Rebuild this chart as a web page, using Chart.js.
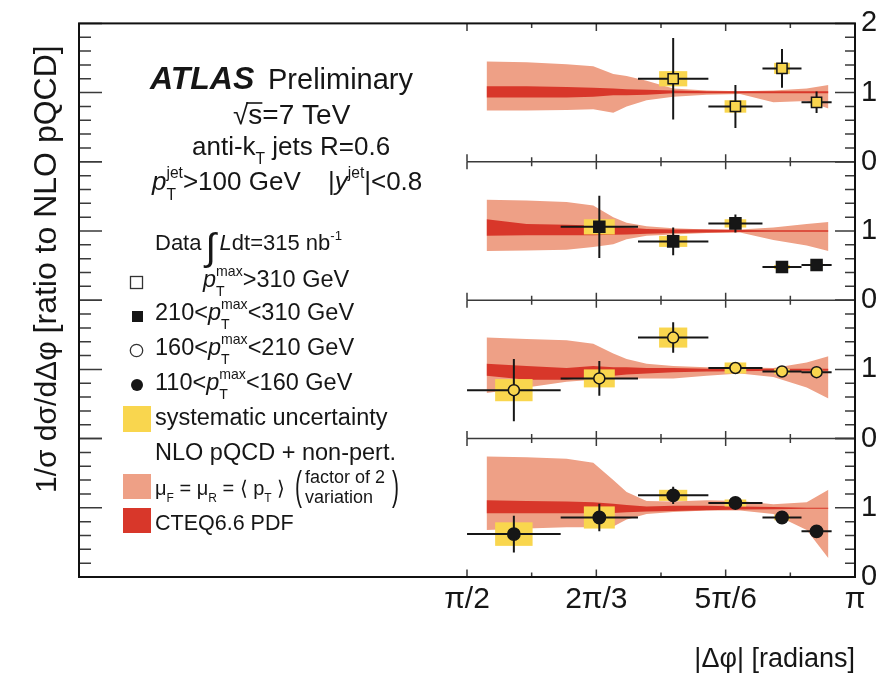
<!DOCTYPE html>
<html>
<head>
<meta charset="utf-8">
<script src="https://cdn.jsdelivr.net/npm/chart.js@4.4.0/dist/chart.umd.min.js"></script>
<style>
  html, body { margin: 0; padding: 0; background: #fff; }
  canvas { display: block; }
</style>
</head>
<body>
<canvas id="dphiChart" width="887" height="675"></canvas>
<script>
// |dphi| bins (radians), same for every panel
const binLo = [1.571, 1.950, 2.263, 2.548, 2.767, 2.925];
const binHi = [1.950, 2.263, 2.548, 2.767, 2.925, 3.047];

const xTickVals = [Math.PI / 2, 2 * Math.PI / 3, 5 * Math.PI / 6, Math.PI];
const xTickLabels = ['π/2', '2π/3', '5π/6', 'π'];
const xMinorVals = [7 * Math.PI / 12, 3 * Math.PI / 4, 11 * Math.PI / 12];

// data / NLO, one set per pT max slice (top panel first)
const ratio310 = [null, null, 1.20, 0.80, 1.35, 0.86];
const stat310  = [null, null, 0.59, 0.31, 0.28, 0.155];
const syst310  = [null, null, 0.11, 0.09, 0.08, 0.06];

const ratio210 = [null, 1.06, 0.85, 1.11, 0.48, 0.51];
const stat210  = [null, 0.45, 0.20, 0.13, 0.03, 0.03];
const syst210  = [null, 0.11, 0.08, 0.06, 0.03, 0.03];

const ratio160 = [0.70, 0.87, 1.46, 1.02, 0.97, 0.96];
const stat160  = [0.45, 0.25, 0.22, 0.04, 0.03, 0.03];
const syst160  = [0.16, 0.13, 0.145, 0.08, 0.04, 0.04];

const ratio110 = [0.62, 0.86, 1.18, 1.07, 0.86, 0.66];
const stat110  = [0.265, 0.20, 0.125, 0.04, 0.03, 0.03];
const syst110  = [0.17, 0.16, 0.08, 0.05, 0.04, 0.03];

// theory bands (scale variation and PDF), nodes along |dphi|
const bandX = [1.650, 1.812, 1.974, 2.082, 2.163, 2.217, 2.298, 2.406, 2.541, 2.676, 2.811, 2.946, 3.034];

const scaleUp310 = [1.45, 1.44, 1.41, 1.38, 1.27, 1.24, 1.17, 1.06, 1.03, 1.02, 1.03, 1.06, 1.11];
const scaleDn310 = [0.74, 0.74, 0.75, 0.76, 0.71, 0.80, 0.89, 0.94, 0.97, 0.98, 0.86, 0.88, 0.77];
const pdfUp310   = [1.09, 1.09, 1.08, 1.07, 1.06, 1.05, 1.04, 1.03, 1.02, 1.02, 1.02, 1.02, 1.02];
const pdfDn310   = [0.93, 0.93, 0.93, 0.94, 0.96, 0.96, 0.97, 0.99, 0.99, 0.99, 0.99, 0.99, 0.99];

const scaleUp210 = [1.45, 1.44, 1.42, 1.37, 1.20, 1.12, 1.07, 1.04, 1.02, 1.02, 1.05, 1.10, 1.13];
const scaleDn210 = [0.71, 0.72, 0.73, 0.77, 0.81, 0.88, 0.93, 0.95, 0.97, 0.98, 0.87, 0.79, 0.71];
const pdfUp210   = [1.17, 1.10, 1.09, 1.08, 1.06, 1.05, 1.03, 1.02, 1.02, 1.015, 1.01, 1.01, 1.01];
const pdfDn210   = [0.93, 0.94, 0.94, 0.94, 0.945, 0.95, 0.96, 0.97, 0.98, 0.985, 0.99, 0.99, 0.99];

const scaleUp160 = [1.46, 1.44, 1.42, 1.37, 1.23, 1.15, 1.08, 1.05, 1.03, 1.03, 1.02, 1.10, 1.19];
const scaleDn160 = [0.66, 0.74, 0.82, 0.85, 0.86, 0.87, 0.87, 0.87, 0.91, 0.94, 0.89, 0.74, 0.58];
const pdfUp160   = [1.08, 1.05, 1.02, 1.05, 1.03, 1.03, 1.02, 1.02, 1.01, 1.01, 1.01, 1.01, 1.01];
const pdfDn160   = [0.91, 0.85, 0.85, 0.89, 0.91, 0.925, 0.94, 0.96, 0.97, 0.975, 0.98, 0.98, 0.98];

const scaleUp110 = [1.74, 1.73, 1.71, 1.65, 1.40, 1.23, 1.10, 1.09, 1.11, 1.10, 1.05, 1.08, 1.26];
const scaleDn110 = [0.68, 0.70, 0.72, 0.72, 0.73, 0.83, 0.91, 0.94, 0.96, 0.96, 0.91, 0.68, 0.27];
const pdfUp110   = [1.11, 1.10, 1.09, 1.08, 1.06, 1.04, 1.02, 1.03, 1.03, 1.02, 1.01, 1.00, 1.00];
const pdfDn110   = [0.92, 0.92, 0.92, 0.92, 0.925, 0.935, 0.945, 0.955, 0.965, 0.975, 0.98, 0.985, 0.985];

const SALMON = '#eea086';
const RED = '#d8372a';
const YELLOW = '#f9d64e';
const INK = '#161616';
const FONT = "'Liberation Sans', Arial, Helvetica, sans-serif";

const panels = [
  { ratio: ratio310, stat: stat310, syst: syst310, up: scaleUp310, dn: scaleDn310, pup: pdfUp310, pdn: pdfDn310,
    style: 'rect', radius: 7.2, fill: YELLOW },
  { ratio: ratio210, stat: stat210, syst: syst210, up: scaleUp210, dn: scaleDn210, pup: pdfUp210, pdn: pdfDn210,
    style: 'rect', radius: 7.8, fill: INK },
  { ratio: ratio160, stat: stat160, syst: syst160, up: scaleUp160, dn: scaleDn160, pup: pdfUp160, pdn: pdfDn160,
    style: 'circle', radius: 5.5, fill: YELLOW },
  { ratio: ratio110, stat: stat110, syst: syst110, up: scaleUp110, dn: scaleDn110, pup: pdfUp110, pdn: pdfDn110,
    style: 'circle', radius: 6.2, fill: INK }
];

const datasets = [];
const scales = {
  x: {
    type: 'linear', min: 0, max: Math.PI, position: 'bottom',
    grid: { display: false, drawTicks: false },
    border: { display: false },
    afterBuildTicks: s => { s.ticks = xTickVals.map(v => ({ value: v })); },
    ticks: {
      autoSkip: false, maxRotation: 0, padding: 5, color: INK,
      font: { family: FONT, size: 30 },
      callback: (v, i) => xTickLabels[i]
    },
    afterFit: s => { s.height = 98; }
  }
};

panels.forEach((p, i) => {
  const yId = 'y' + i;
  scales[yId] = {
    type: 'linear', min: 0, max: 2, position: 'right', stack: 'panels', stackWeight: 1,
    grid: { display: false, drawTicks: false },
    border: { display: false },
    ticks: {
      stepSize: 1, padding: 6, color: INK,
      font: { family: FONT, size: 29 },
      callback: v => (i > 0 && v === 2) ? '' : String(v)
    },
    afterFit: s => { s.width = 32; }
  };

  const band = (vals, fill, color, order) => ({
    type: 'line', yAxisID: yId, xAxisID: 'x', order: order,
    data: bandX.map((x, k) => ({ x: x, y: vals[k] })),
    borderWidth: 0, borderColor: 'rgba(0,0,0,0)', pointRadius: 0, tension: 0,
    fill: fill, backgroundColor: color
  });
  datasets.push(band(p.up, '+1', SALMON, 4));
  datasets.push(band(p.dn, false, SALMON, 4));
  datasets.push(band(p.pup, '+1', RED, 3));
  datasets.push(band(p.pdn, false, RED, 3));

  // error bars: horizontal bin width + vertical stat error, broken by gaps
  const bars = [];
  p.ratio.forEach((v, k) => {
    if (v === null) return;
    const c = (binLo[k] + binHi[k]) / 2;
    bars.push({ x: binLo[k], y: v }, { x: binHi[k], y: v }, { x: c, y: null });
    bars.push({ x: c, y: v - p.stat[k] }, { x: c, y: v + p.stat[k] }, { x: c, y: null });
  });
  datasets.push({
    type: 'line', yAxisID: yId, xAxisID: 'x', order: 1, panel: i, errBars: true,
    data: bars, spanGaps: false, borderColor: INK, borderWidth: 2, pointRadius: 0, fill: false
  });

  const pts = [];
  p.ratio.forEach((v, k) => { if (v !== null) pts.push({ x: (binLo[k] + binHi[k]) / 2, y: v }); });
  datasets.push({
    type: 'line', yAxisID: yId, xAxisID: 'x', order: 0, showLine: false, data: pts,
    pointStyle: p.style, pointRadius: p.radius, pointBackgroundColor: p.fill,
    pointBorderColor: INK, pointBorderWidth: 1.5
  });
});

function fnt(size, style) {
  let pre = '';
  if (style && style.includes('i')) pre += 'italic ';
  if (style && style.includes('b')) pre += 'bold ';
  return pre + size + 'px ' + FONT;
}

// text with ROOT-like sub/superscripts
function rich(ctx, x, y, size, parts) {
  let cx = x;
  const sm = size * 0.6;
  parts.forEach(([t, s]) => {
    if (s === 'ss') {
      ctx.font = fnt(sm);
      ctx.fillText(t[0], cx, y - size * 0.45);
      ctx.fillText(t[1], cx, y + size * 0.4);
      cx += Math.max(ctx.measureText(t[0]).width, ctx.measureText(t[1]).width);
    } else if (s === 'sup') {
      ctx.font = fnt(sm);
      ctx.fillText(t, cx, y - size * 0.45);
      cx += ctx.measureText(t).width;
    } else if (s === 'sub') {
      ctx.font = fnt(sm);
      ctx.fillText(t, cx, y + size * 0.35);
      cx += ctx.measureText(t).width;
    } else {
      ctx.font = fnt(size, s);
      ctx.fillText(t, cx, y);
      cx += ctx.measureText(t).width;
    }
  });
  return cx;
}

// tall thin bracket for the legend
function paren(ctx, ch, x, y) {
  ctx.save();
  ctx.translate(x, y);
  ctx.scale(1, 1.9);
  ctx.font = fnt(21);
  ctx.fillText(ch, 0, 0);
  ctx.restore();
}

const atlasDecor = {
  id: 'atlasDecor',
  beforeDatasetDraw(chart, args) {
    const ds = chart.data.datasets[args.index];
    if (!ds.errBars) return;
    const p = panels[ds.panel];
    const xs = chart.scales.x, ys = chart.scales['y' + ds.panel];
    const ctx = chart.ctx;
    ctx.save();
    ctx.fillStyle = YELLOW;
    p.ratio.forEach((v, k) => {
      if (v === null) return;
      const c = (binLo[k] + binHi[k]) / 2, hw = 0.2 * (binHi[k] - binLo[k]);
      const x0 = xs.getPixelForValue(c - hw), x1 = xs.getPixelForValue(c + hw);
      const y0 = ys.getPixelForValue(v + p.syst[k]), y1 = ys.getPixelForValue(v - p.syst[k]);
      ctx.fillRect(x0, y0, x1 - x0, y1 - y0);
    });
    ctx.restore();
  },
  afterDatasetsDraw(chart) {
    const ctx = chart.ctx;
    const area = chart.chartArea;
    const xs = chart.scales.x;
    const xPi2 = xs.getPixelForValue(Math.PI / 2);
    ctx.save();

    // panel separators + ticks
    ctx.strokeStyle = '#3a3a3a';
    ctx.lineWidth = 1.5;
    panels.forEach((p, i) => {
      const ys = chart.scales['y' + i];
      if (i < panels.length - 1) {
        ctx.beginPath();
        ctx.moveTo(xPi2, ys.bottom); ctx.lineTo(area.right, ys.bottom);
        ctx.stroke();
      }
      for (let k = 0; k <= 10; k++) {
        const py = ys.getPixelForValue(k / 5);
        const major = k % 5 === 0;
        ctx.beginPath();
        ctx.moveTo(area.left, py); ctx.lineTo(area.left + (major ? 23 : 12), py);
        ctx.moveTo(area.right, py); ctx.lineTo(area.right - (major ? 20 : 10), py);
        ctx.stroke();
      }
      const xt = [[xTickVals.slice(0, 3), 7.5], [xMinorVals, 4.5]];
      xt.forEach(([vals, len]) => {
        vals.forEach(v => {
          const px = xs.getPixelForValue(v);
          ctx.beginPath();
          ctx.moveTo(px, ys.top); ctx.lineTo(px, ys.top + len);
          ctx.moveTo(px, ys.bottom); ctx.lineTo(px, ys.bottom - len);
          ctx.stroke();
        });
      });
    });

    // frame
    ctx.strokeStyle = '#111';
    ctx.lineWidth = 2;
    ctx.strokeRect(area.left, area.top, area.right - area.left, area.bottom - area.top);

    // axis titles
    ctx.fillStyle = INK;
    ctx.textAlign = 'left';
    ctx.textBaseline = 'alphabetic';
    ctx.save();
    ctx.translate(56, 493);
    ctx.rotate(-Math.PI / 2);
    ctx.font = fnt(30);
    ctx.fillText('1/σ dσ/dΔφ', 0, 0);
    const wt = ctx.measureText('1/σ dσ/dΔφ').width + 8;
    ctx.font = fnt(32);
    ctx.fillText('[ratio to NLO pQCD]', wt, 0);
    ctx.restore();

    ctx.font = fnt(27);
    ctx.textAlign = 'right';
    ctx.fillText('|Δφ| [radians]', area.right, 667);
    ctx.textAlign = 'left';

    // labels block
    ctx.font = fnt(32, 'bi');
    ctx.fillText('ATLAS', 150, 89);
    ctx.font = fnt(29);
    ctx.fillText('Preliminary', 268, 89);

    ctx.font = fnt(28);
    ctx.fillText('√s=7 TeV', 233, 124);
    const wr = ctx.measureText('√').width, ws = ctx.measureText('s').width;
    ctx.lineWidth = 1.6; ctx.strokeStyle = INK;
    ctx.beginPath(); ctx.moveTo(233 + wr - 2, 103); ctx.lineTo(233 + wr + ws, 103); ctx.stroke();

    rich(ctx, 192, 155, 26, [['anti-k', ''], ['T', 'sub'], [' jets R=0.6', '']]);
    rich(ctx, 152, 190, 26, [['p', 'i'], [['jet', 'T'], 'ss'], ['>100 GeV', '']]);
    rich(ctx, 328, 190, 26, [['|', ''], ['y', 'i'], ['jet', 'sup'], ['|<0.8', '']]);

    const cx = rich(ctx, 155, 250, 22, [['Data ', '']]);
    ctx.font = fnt(38);
    ctx.fillText('∫', cx - 2, 260);
    rich(ctx, cx + 12, 250, 22, [['L', 'i'], ['dt=315 nb', ''], ['-1', 'sup']]);

    const LS = 23.5;
    rich(ctx, 203, 287, LS, [['p', 'i'], [['max', 'T'], 'ss'], ['>310 GeV', '']]);
    rich(ctx, 155, 320, LS, [['210<', ''], ['p', 'i'], [['max', 'T'], 'ss'], ['<310 GeV', '']]);
    rich(ctx, 155, 355, LS, [['160<', ''], ['p', 'i'], [['max', 'T'], 'ss'], ['<210 GeV', '']]);
    rich(ctx, 155, 390, LS, [['110<', ''], ['p', 'i'], [['max', 'T'], 'ss'], ['<160 GeV', '']]);

    // legend keys
    ctx.lineWidth = 1.3; ctx.strokeStyle = '#333';
    ctx.strokeRect(130.5, 276.5, 12, 12);
    ctx.fillStyle = INK;
    ctx.fillRect(132, 311, 11, 11);
    ctx.beginPath(); ctx.arc(136.5, 350.5, 6.2, 0, 2 * Math.PI); ctx.stroke();
    ctx.beginPath(); ctx.arc(137, 385, 6, 0, 2 * Math.PI); ctx.fill();
    ctx.fillStyle = YELLOW; ctx.fillRect(123, 406, 28, 26);
    ctx.fillStyle = SALMON; ctx.fillRect(123, 474, 28, 25);
    ctx.fillStyle = RED; ctx.fillRect(123, 508, 28, 25);

    ctx.fillStyle = INK;
    rich(ctx, 155, 425, LS, [['systematic uncertainty', '']]);
    rich(ctx, 155, 460, LS, [['NLO pQCD + non-pert.', '']]);
    rich(ctx, 155, 495, 20, [['μ', ''], ['F', 'sub'], [' = μ', ''], ['R', 'sub'], [' = ⟨ p', ''], ['T', 'sub'], [' ⟩', '']]);
    paren(ctx, '(', 295, 500);
    paren(ctx, ')', 392, 500);
    ctx.font = fnt(18);
    ctx.fillText('factor of 2', 305, 483);
    ctx.fillText('variation', 305, 503);
    rich(ctx, 155, 530, 21.5, [['CTEQ6.6 PDF', '']]);

    ctx.restore();
  }
};

new Chart(document.getElementById('dphiChart').getContext('2d'), {
  type: 'line',
  data: { datasets: datasets },
  options: {
    responsive: false,
    animation: false,
    events: [],
    layout: { padding: { left: 79, top: 20 } },
    plugins: {
      legend: { display: false },
      tooltip: { enabled: false }
    },
    scales: scales
  },
  plugins: [atlasDecor]
});
</script>
</body>
</html>
